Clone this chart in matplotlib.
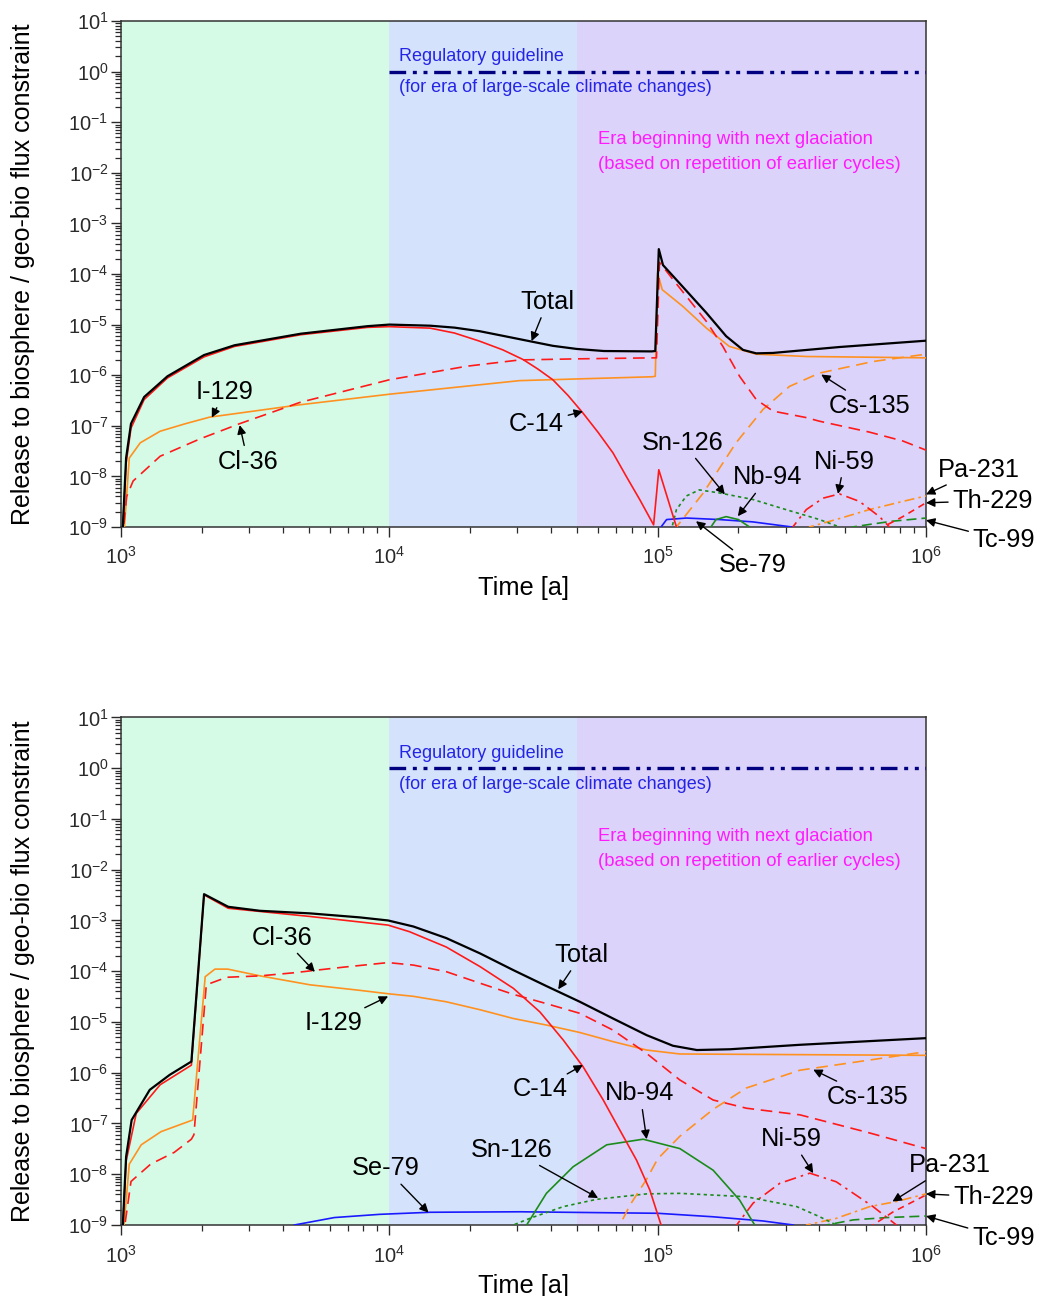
import numpy as np
import matplotlib.pyplot as plt
from matplotlib.ticker import LogLocator, NullFormatter

plt.rcParams['font.family'] = ['Liberation Sans', 'DejaVu Sans']
plt.rcParams['mathtext.fontset'] = 'custom'
plt.rcParams['mathtext.rm'] = 'Liberation Sans'
plt.rcParams['mathtext.default'] = 'regular'

# era boundaries [a] and the regulatory guideline
era_edges = [1e3, 1e4, 5e4, 1e6]
era_colors = ['#d5fbe7', '#d4e3fb', '#dbd3fa']
guide_t = [1e4, 1e6]
guide_val = [1.0, 1.0]

# ---------------- top panel ----------------
a_total_t = [1.01e3, 1.045e3, 1.09e3, 1.22e3, 1.49e3, 2.04e3, 2.65e3, 4.68e3, 8.3e3, 1.0e4, 1.42e4, 1.75e4,
             2.17e4, 2.69e4, 3.33e4, 4.07e4, 4.99e4, 6.3e4, 9.5e4, 9.8e4, 1.01e5, 1.047e5, 1.24e5, 1.52e5,
             1.80e5, 2.08e5, 2.33e5, 2.69e5, 4.76e5, 1.0e6]
a_total_y = [5e-10, 2.3e-8, 1.1e-7, 3.7e-7, 9.5e-7, 2.5e-6, 3.9e-6, 6.6e-6, 9.3e-6, 1.0e-5, 9.5e-6, 8.7e-6,
             7.4e-6, 5.9e-6, 4.7e-6, 3.8e-6, 3.3e-6, 3.0e-6, 2.95e-6, 3.0e-6, 3.1e-4, 1.5e-4, 5.6e-5, 1.7e-5,
             5.9e-6, 3.16e-6, 2.7e-6, 2.75e-6, 3.6e-6, 4.8e-6]
a_c14_t = [1.01e3, 1.045e3, 1.09e3, 1.22e3, 1.49e3, 2.04e3, 2.65e3, 4.68e3, 8.3e3, 1.0e4, 1.42e4, 1.75e4,
           2.17e4, 2.65e4, 3.15e4, 3.58e4, 4.07e4, 4.63e4, 5.27e4, 6.0e4, 6.82e4, 7.64e4, 8.57e4, 9.66e4,
           1.01e5, 1.175e5, 1.2e5]
a_c14_y = [5e-10, 1.8e-8, 9e-8, 3.3e-7, 8.8e-7, 2.3e-6, 3.7e-6, 6.3e-6, 8.8e-6, 9.1e-6, 8.5e-6, 6.8e-6,
           4.7e-6, 3.16e-6, 2.04e-6, 1.32e-6, 8.1e-7, 4.0e-7, 1.78e-7, 7.4e-8, 2.9e-8, 1.0e-8, 3.5e-9, 1.1e-9,
           1.35e-8, 1.0e-9, 8e-10]
a_cl36_t = [1.01e3, 1.05e3, 1.11e3, 1.40e3, 1.97e3, 2.77e3, 4.65e3, 1.0e4, 1.94e4, 3.06e4, 5.0e4, 9.6e4, 9.9e4,
            1.016e5, 1.14e5, 1.31e5, 1.52e5, 1.75e5, 2.02e5, 2.33e5, 2.69e5, 3.58e5, 4.01e5, 6.15e5, 8.2e5, 1.0e6]
a_cl36_y = [5e-10, 4e-9, 8.1e-9, 2.5e-8, 5.5e-8, 1.1e-7, 2.9e-7, 8.1e-7, 1.5e-6, 2.0e-6, 2.1e-6, 2.2e-6, 2.2e-6,
            1.7e-4, 7.8e-5, 3.1e-5, 1.15e-5, 3.7e-6, 9.5e-7, 3.3e-7, 1.95e-7, 1.45e-7, 1.23e-7, 7.5e-8, 5.0e-8,
            3.3e-8]
a_i129_t = [1.01e3, 1.03e3, 1.074e3, 1.18e3, 1.40e3, 1.74e3, 2.14e3, 4.65e3, 1.0e4, 3.06e4, 9.55e4, 9.8e4,
            1.0e5, 1.04e5, 1.24e5, 1.52e5, 1.85e5, 2.33e5, 3.58e5, 1.0e6]
a_i129_y = [5e-10, 1e-9, 2.3e-8, 4.6e-8, 7.8e-8, 1.1e-7, 1.48e-7, 2.6e-7, 4.2e-7, 7.8e-7, 9.3e-7, 9.5e-7,
            1.05e-4, 4.9e-5, 2.3e-5, 8.5e-6, 3.7e-6, 2.6e-6, 2.34e-6, 2.2e-6]
a_cs135_t = [1.16e5, 1.175e5, 1.48e5, 1.96e5, 2.08e5, 2.47e5, 3.1e5, 4.01e5, 6.34e5, 1.0e6]
a_cs135_y = [8e-10, 1.0e-9, 4.7e-9, 4.6e-8, 6.8e-8, 2.1e-7, 6.0e-7, 1.1e-6, 1.86e-6, 2.6e-6]
a_sn126_t = [1.12e5, 1.175e5, 1.28e5, 1.43e5, 1.70e5, 2.26e5, 3.01e5, 4.01e5, 4.76e5, 5.0e5]
a_sn126_y = [8e-10, 2.2e-9, 4.1e-9, 5.4e-9, 4.7e-9, 3.5e-9, 2.2e-9, 1.4e-9, 1.0e-9, 8e-10]
a_se79_t = [1.02e5, 1.03e5, 1.08e5, 1.28e5, 1.70e5, 2.26e5, 3.16e5, 3.3e5]
a_se79_y = [8e-10, 1.0e-9, 1.4e-9, 1.5e-9, 1.4e-9, 1.26e-9, 1.0e-9, 8e-10]
a_nb94_t = [1.55e5, 1.58e5, 1.65e5, 1.80e5, 2.0e5, 2.2e5, 2.25e5]
a_nb94_y = [8e-10, 1.0e-9, 1.4e-9, 1.6e-9, 1.4e-9, 1.0e-9, 8e-10]
a_ni59_t = [3.1e5, 3.19e5, 3.58e5, 4.13e5, 4.76e5, 5.65e5, 6.71e5, 7.31e5, 7.5e5]
a_ni59_y = [8e-10, 1.0e-9, 2.2e-9, 3.7e-9, 4.5e-9, 3.2e-9, 1.6e-9, 1.0e-9, 8e-10]
a_pa231_t = [3.6e5, 3.68e5, 4.62e5, 6.15e5, 8.2e5, 1.0e6]
a_pa231_y = [8e-10, 1.0e-9, 1.4e-9, 2.2e-9, 3.2e-9, 4.1e-9]
a_th229_t = [6.7e5, 6.92e5, 8.2e5, 1.0e6]
a_th229_y = [8e-10, 1.0e-9, 1.6e-9, 3.0e-9]
a_tc99_t = [5.2e5, 5.33e5, 6.15e5, 7.5e5, 1.0e6]
a_tc99_y = [8e-10, 1.0e-9, 1.12e-9, 1.3e-9, 1.5e-9]

# ---------------- bottom panel ----------------
b_total_t = [1.01e3, 1.045e3, 1.096e3, 1.28e3, 1.52e3, 1.83e3, 2.04e3, 2.51e3, 3.30e3, 5.06e3, 7.76e3, 9.9e3,
             1.23e4, 1.63e4, 2.18e4, 2.90e4, 3.85e4, 5.13e4, 6.82e4, 9.1e4, 1.14e5, 1.40e5, 1.86e5, 3.39e5, 1.0e6]
b_total_y = [5e-10, 2.2e-8, 1.17e-7, 4.6e-7, 9.1e-7, 1.66e-6, 3.3e-3, 1.86e-3, 1.55e-3, 1.38e-3, 1.15e-3, 1.0e-3,
             7.6e-4, 4.5e-4, 2.24e-4, 1.05e-4, 5.1e-5, 2.5e-5, 1.17e-5, 5.5e-6, 3.4e-6, 2.8e-6, 2.9e-6, 3.55e-6,
             4.8e-6]
b_c14_t = [1.01e3, 1.045e3, 1.14e3, 1.40e3, 1.83e3, 2.04e3, 2.51e3, 5.06e3, 9.9e3, 1.19e4, 1.63e4, 2.18e4,
           2.90e4, 3.64e4, 4.45e4, 5.27e4, 6.27e4, 7.23e4, 8.34e4, 9.35e4, 1.03e5, 1.06e5]
b_c14_y = [5e-10, 1.8e-8, 1.58e-7, 5.8e-7, 1.41e-6, 3.2e-3, 1.74e-3, 1.2e-3, 8.1e-4, 6.0e-4, 3.0e-4, 1.23e-4,
           4.6e-5, 1.58e-5, 4.4e-6, 1.32e-6, 2.9e-7, 7.4e-8, 1.9e-8, 4.9e-9, 1.0e-9, 6e-10]
b_cl36_t = [1.015e3, 1.09e3, 1.29e3, 1.58e3, 1.83e3, 1.87e3, 2.08e3, 2.48e3, 3.30e3, 4.39e3, 5.36e3, 6.73e3,
            9.9e3, 1.23e4, 1.63e4, 2.18e4, 2.90e4, 3.85e4, 5.13e4, 6.82e4, 9.1e4, 1.21e5, 1.61e5, 2.14e5, 3.39e5,
            6.17e5, 1.0e6]
b_cl36_y = [5e-10, 7.2e-9, 1.58e-8, 2.7e-8, 4.9e-8, 6e-8, 5.4e-5, 7.6e-5, 8.1e-5, 9.3e-5, 1.05e-4, 1.2e-4,
            1.48e-4, 1.32e-4, 9.8e-5, 5.8e-5, 3.5e-5, 2.3e-5, 1.48e-5, 6.9e-6, 2.4e-6, 7.2e-7, 2.9e-7, 2.0e-7,
            1.48e-7, 6.5e-8, 3.2e-8]
b_i129_t = [1.015e3, 1.074e3, 1.19e3, 1.41e3, 1.85e3, 2.06e3, 2.24e3, 2.5e3, 3.30e3, 5.06e3, 7.76e3, 9.9e3,
            1.23e4, 1.63e4, 2.18e4, 2.90e4, 3.85e4, 5.13e4, 6.82e4, 9.1e4, 1.21e5, 1.0e6]
b_i129_y = [5e-10, 1.58e-8, 3.8e-8, 6.9e-8, 1.17e-7, 7.8e-5, 1.1e-4, 1.1e-4, 8.1e-5, 5.4e-5, 4.2e-5, 3.6e-5,
            3.2e-5, 2.5e-5, 1.74e-5, 1.17e-5, 8.7e-6, 6.2e-6, 4.1e-6, 2.8e-6, 2.34e-6, 2.2e-6]
b_cs135_t = [7.0e4, 7.23e4, 7.9e4, 9.1e4, 1.0e5, 1.21e5, 1.61e5, 2.14e5, 3.39e5, 6.17e5, 1.0e6]
b_cs135_y = [6e-10, 1.0e-9, 2.5e-9, 8e-9, 2.0e-8, 5.6e-8, 1.9e-7, 5.0e-7, 1.12e-6, 1.78e-6, 2.6e-6]
b_sn126_t = [2.8e4, 2.9e4, 3.34e4, 4.45e4, 5.92e4, 9.1e4, 1.21e5, 2.14e5, 3.3e5, 4.02e5, 4.63e5, 4.8e5]
b_sn126_y = [6e-10, 1.0e-9, 1.35e-9, 2.3e-9, 3.2e-9, 4.1e-9, 4.2e-9, 3.6e-9, 2.3e-9, 1.45e-9, 1.0e-9, 8e-10]
b_se79_t = [4.2e3, 4.43e3, 6.24e3, 9.2e3, 1.42e4, 3.07e4, 1.0e5, 1.61e5, 2.47e5, 3.2e5, 3.4e5]
b_se79_y = [8e-10, 1.0e-9, 1.4e-9, 1.62e-9, 1.78e-9, 1.82e-9, 1.7e-9, 1.45e-9, 1.2e-9, 1.0e-9, 8e-10]
b_nb94_t = [3.1e4, 3.25e4, 3.85e4, 4.84e4, 6.46e4, 8.83e4, 1.21e5, 1.61e5, 2.02e5, 2.3e5, 2.4e5]
b_nb94_y = [6e-10, 1.0e-9, 4.2e-9, 1.4e-8, 3.8e-8, 4.9e-8, 3.2e-8, 1.2e-8, 3.1e-9, 1.0e-9, 6e-10]
b_ni59_t = [1.9e5, 1.97e5, 2.27e5, 2.85e5, 3.69e5, 4.63e5, 6.35e5, 7.76e5, 8.0e5]
b_ni59_y = [8e-10, 1.0e-9, 2.7e-9, 6.6e-9, 1.05e-8, 7.1e-9, 2.3e-9, 1.0e-9, 8e-10]
b_pa231_t = [3.5e5, 3.59e5, 4.63e5, 6.17e5, 7.76e5, 1.0e6]
b_pa231_y = [8e-10, 1.0e-9, 1.35e-9, 2.3e-9, 2.9e-9, 4.1e-9]
b_th229_t = [6.2e5, 6.35e5, 7.53e5, 1.0e6]
b_th229_y = [8e-10, 1.0e-9, 1.8e-9, 3.9e-9]
b_tc99_t = [4.1e5, 4.26e5, 5.36e5, 7.13e5, 1.0e6]
b_tc99_y = [8e-10, 1.0e-9, 1.26e-9, 1.4e-9, 1.5e-9]

RED = '#ff1a1a'
ORANGE = '#ff9120'
GREEN = '#1b8c1b'
BLUE = '#1a1aff'

styles = {
    'Tc-99':  dict(color=GREEN, ls=(0, (6, 3))),
    'Th-229': dict(color=RED, ls=(0, (4, 3))),
    'Pa-231': dict(color=ORANGE, ls=(0, (6, 2.5, 1.5, 2.5))),
    'Ni-59':  dict(color=RED, ls=(0, (7, 3, 1.5, 3))),
    'Se-79':  dict(color=BLUE, ls='-'),
    'Nb-94':  dict(color=GREEN, ls='-'),
    'Sn-126': dict(color=GREEN, ls=(0, (2, 2))),
    'Cs-135': dict(color=ORANGE, ls=(0, (7, 4))),
    'I-129':  dict(color=ORANGE, ls='-'),
    'Cl-36':  dict(color=RED, ls=(0, (7, 4))),
    'C-14':   dict(color=RED, ls='-'),
    'Total':  dict(color='black', ls='-', lw=1.6),
}

top_series = {
    'Tc-99': (a_tc99_t, a_tc99_y), 'Th-229': (a_th229_t, a_th229_y), 'Pa-231': (a_pa231_t, a_pa231_y),
    'Ni-59': (a_ni59_t, a_ni59_y), 'Se-79': (a_se79_t, a_se79_y), 'Nb-94': (a_nb94_t, a_nb94_y),
    'Sn-126': (a_sn126_t, a_sn126_y), 'Cs-135': (a_cs135_t, a_cs135_y), 'I-129': (a_i129_t, a_i129_y),
    'Cl-36': (a_cl36_t, a_cl36_y), 'C-14': (a_c14_t, a_c14_y), 'Total': (a_total_t, a_total_y),
}
bottom_series = {
    'Tc-99': (b_tc99_t, b_tc99_y), 'Th-229': (b_th229_t, b_th229_y), 'Pa-231': (b_pa231_t, b_pa231_y),
    'Ni-59': (b_ni59_t, b_ni59_y), 'Se-79': (b_se79_t, b_se79_y), 'Nb-94': (b_nb94_t, b_nb94_y),
    'Sn-126': (b_sn126_t, b_sn126_y), 'Cs-135': (b_cs135_t, b_cs135_y), 'I-129': (b_i129_t, b_i129_y),
    'Cl-36': (b_cl36_t, b_cl36_y), 'C-14': (b_c14_t, b_c14_y), 'Total': (b_total_t, b_total_y),
}

# label, arrow head (data), text centre (data)
top_notes = [
    ('Total', (3.39e4, 4.7e-6), (3.89e4, 2.83e-5)),
    ('C-14', (5.27e4, 1.93e-7), (3.54e4, 1.1e-7)),
    ('I-129', (2.18e3, 1.45e-7), (2.44e3, 4.7e-7)),
    ('Cl-36', (2.77e3, 1.03e-7), (2.97e3, 1.96e-8)),
    ('Cs-135', (4.07e5, 1.03e-6), (6.17e5, 2.5e-7)),
    ('Sn-126', (1.78e5, 4.4e-9), (1.24e5, 4.66e-8)),
    ('Nb-94', (1.99e5, 1.63e-9), (2.57e5, 9.5e-9)),
    ('Ni-59', (4.7e5, 4.5e-9), (4.97e5, 1.96e-8)),
    ('Se-79', (1.39e5, 1.3e-9), (2.26e5, 1.74e-10)),
    ('Pa-231', (1e6, 4.4e-9), (1.58e6, 1.36e-8)),
    ('Th-229', (1e6, 3.0e-9), (1.77e6, 3.3e-9)),
    ('Tc-99', (1e6, 1.36e-9), (1.95e6, 5.4e-10)),
]
bottom_notes = [
    ('Total', (4.26e4, 4.4e-5), (5.2e4, 2.1e-4)),
    ('C-14', (5.27e4, 1.42e-6), (3.64e4, 4.7e-7)),
    ('Cl-36', (5.28e3, 9.7e-5), (4.0e3, 4.6e-4)),
    ('I-129', (9.9e3, 3.2e-5), (6.18e3, 9.5e-6)),
    ('Nb-94', (9.1e4, 4.9e-8), (8.6e4, 3.9e-7)),
    ('Sn-126', (6.0e4, 3.4e-9), (2.86e4, 3.0e-8)),
    ('Se-79', (1.4e4, 1.75e-9), (9.7e3, 1.3e-8)),
    ('Cs-135', (3.8e5, 1.15e-6), (6.08e5, 3.4e-7)),
    ('Ni-59', (3.8e5, 1.05e-8), (3.15e5, 4.9e-8)),
    ('Pa-231', (7.5e5, 2.9e-9), (1.23e6, 1.5e-8)),
    ('Th-229', (1e6, 4.1e-9), (1.78e6, 3.5e-9)),
    ('Tc-99', (1e6, 1.5e-9), (1.94e6, 5.5e-10)),
]


def draw_panel(ax, series, notes):
    for i in range(3):
        ax.axvspan(era_edges[i], era_edges[i + 1], color=era_colors[i], lw=0, zorder=0)

    ax.plot(guide_t, guide_val, color='#000080', lw=2.4, ls=(0, (5, 2, 1.2, 2, 1.2, 2)), zorder=3)
    ax.text(1.09e4, 1.95, 'Regulatory guideline', color='#2424e6', fontsize=13, va='center', ha='left')
    ax.text(1.09e4, 0.48, '(for era of large-scale climate changes)', color='#2424e6', fontsize=13,
            va='center', ha='left')
    ax.text(5.98e4, 0.045, 'Era beginning with next glaciation', color='#ff1aff', fontsize=13.3,
            va='center', ha='left')
    ax.text(5.98e4, 0.0144, '(based on repetition of earlier cycles)', color='#ff1aff', fontsize=13.3,
            va='center', ha='left')

    for name, (t, y) in series.items():
        st = dict(styles[name])
        lw = st.pop('lw', 1.2)
        ax.plot(t, y, lw=lw, zorder=4, **st)

    for label, head, txt in notes:
        ax.annotate(label, xy=head, xytext=txt, ha='center', va='center', fontsize=18.3,
                    annotation_clip=False, zorder=6,
                    arrowprops=dict(arrowstyle='-|>', color='black', lw=1.0, mutation_scale=13,
                                    shrinkA=1, shrinkB=0))

    ax.set_xscale('log')
    ax.set_yscale('log')
    ax.set_xlim(1e3, 1e6)
    ax.set_ylim(1e-9, 1e1)
    ax.yaxis.set_major_locator(LogLocator(base=10, numticks=20))
    ax.yaxis.set_minor_locator(LogLocator(base=10, subs=np.arange(2, 10), numticks=200))
    ax.yaxis.set_minor_formatter(NullFormatter())
    ax.xaxis.set_minor_locator(LogLocator(base=10, subs=np.arange(2, 10), numticks=50))
    ax.xaxis.set_minor_formatter(NullFormatter())
    ax.tick_params(which='major', direction='out', length=7, width=1.0, labelsize=14.5, colors='#2a2a2a')
    ax.tick_params(which='minor', direction='out', length=4, width=0.9, colors='#2a2a2a')
    ax.tick_params(axis='y', which='major', pad=2)
    ax.tick_params(axis='x', which='major', pad=7)
    for sp in ax.spines.values():
        sp.set_color('#333333')
        sp.set_linewidth(1.1)
    ax.set_xlabel('Time [a]', fontsize=18.3)
    ax.set_ylabel('Release to biosphere / geo-bio flux constraint', fontsize=18)
    ax.xaxis.set_label_coords(0.5, -0.097)
    ax.yaxis.set_label_coords(-0.107, 0.5)


fig = plt.figure(figsize=(10.41, 12.96), dpi=100)
ax1 = fig.add_axes([0.1162, 0.5934, 0.7733, 0.3904])
ax2 = fig.add_axes([0.1162, 0.0548, 0.7733, 0.3916])
draw_panel(ax1, top_series, top_notes)
draw_panel(ax2, bottom_series, bottom_notes)

fig.savefig('out.png', dpi=100)
